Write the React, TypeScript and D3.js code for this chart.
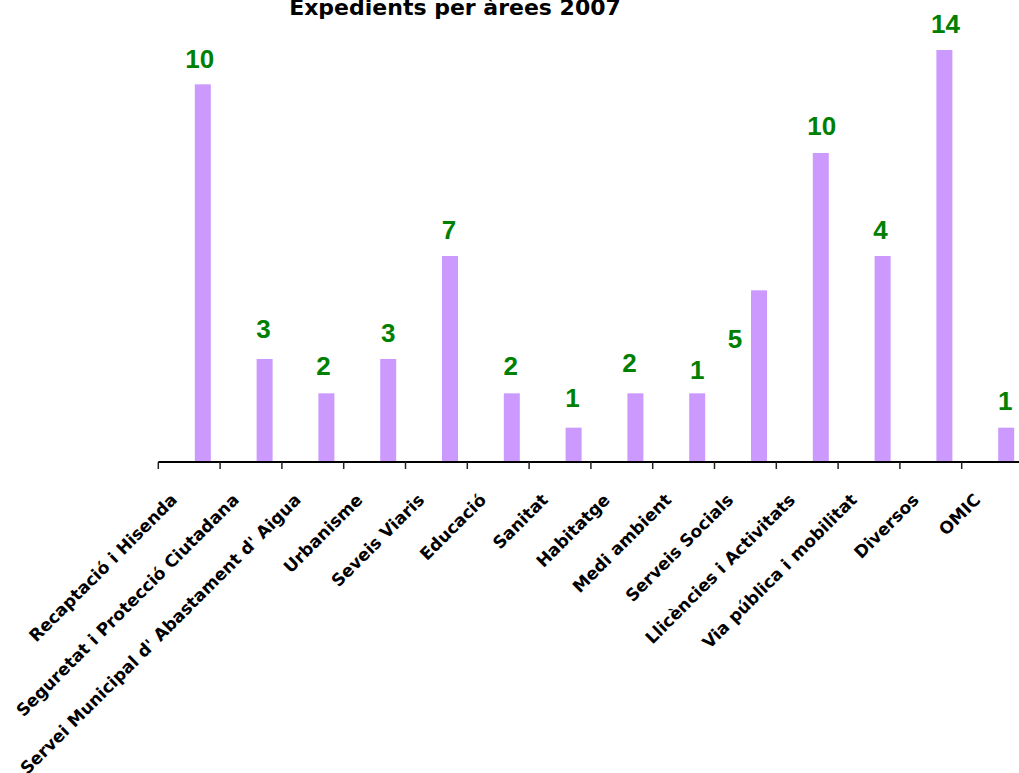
import React from "react";
import * as d3 from "d3";

const title = "Expedients per àrees 2007";
const categories = [
  "Recaptació i Hisenda",
  "Seguretat i Protecció Ciutadana",
  "Servei Municipal d' Abastament d' Aigua",
  "Urbanisme",
  "Seveis Viaris",
  "Educació",
  "Sanitat",
  "Habitatge",
  "Medi ambient",
  "Serveis Socials",
  "Llicències i Activitats",
  "Via pública i mobilitat",
  "Diversos",
  "OMIC",
];
// bar heights as drawn
const barValues = [11, 3, 2, 3, 6, 2, 1, 2, 2, 5, 9, 6, 12, 1];
// value labels as printed
const labelValues = [10, 3, 2, 3, 7, 2, 1, 2, 1, 5, 10, 4, 14, 1];
// small manual nudges of the printed labels [dx, dy]
const labelNudge: [number, number][] = [
  [-3, 1], [-1, -4], [-3, -1], [0, 0], [-1, 0], [-1, -1], [-1, -4],
  [-6, -4], [0, 3], [-24, 75], [1, -1], [-2, 0], [1, 0], [-1, -1],
];

const W = 1019;
const H = 773;
const axisY = 462;
const x0 = 158.3;
const step = 61.8;

export default function App() {
  const x = d3
    .scaleBand<string>()
    .domain(categories)
    .range([x0, x0 + step * categories.length])
    .paddingInner(0)
    .paddingOuter(0);
  const y = d3.scaleLinear().domain([0, 12]).range([axisY, 50]);
  const bw = x.bandwidth();
  const barW = 16;
  const barOff = 36.5;
  const ticks = categories.map((c) => x(c) as number).concat([x0 + step * categories.length]);

  return (
    <svg
      width={W}
      height={H}
      style={{ position: "absolute", left: 0, top: 0, background: "#fff" }}
    >
      <rect x={0} y={0} width={W} height={H} fill="#fff" />
      <text
        x={455}
        y={15}
        textAnchor="middle"
        fontFamily="DejaVu Sans"
        fontWeight="bold"
        fontSize={22}
        fill="#000"
      >
        {title}
      </text>
      {categories.map((c, i) => (
        <rect
          key={"b" + i}
          x={(x(c) as number) + barOff}
          y={y(barValues[i])}
          width={barW}
          height={axisY - y(barValues[i])}
          fill="#CC99FF"
        />
      ))}
      {categories.map((c, i) => (
        <text
          key={"l" + i}
          x={(x(c) as number) + barOff + barW / 2 + labelNudge[i][0]}
          y={y(barValues[i]) - 17 + labelNudge[i][1]}
          textAnchor="middle"
          fontFamily="Liberation Sans"
          fontWeight="bold"
          fontSize={26}
          fill="#008000"
        >
          {labelValues[i]}
        </text>
      ))}
      <line x1={x0} x2={W} y1={axisY} y2={axisY} stroke="#000" strokeWidth={2} />
      {ticks.map((t, i) => (
        <line key={"t" + i} x1={t} x2={t} y1={axisY} y2={axisY + 7} stroke="#222" strokeWidth={1.5} />
      ))}
      {categories.map((c, i) => {
        const cx = (x(c) as number) + bw / 2 - 11;
        const cy = 501;
        return (
          <text
            key={"c" + i}
            x={cx}
            y={cy}
            transform={`rotate(-45 ${cx} ${cy})`}
            textAnchor="end"
            fontFamily="DejaVu Sans"
            fontWeight="bold"
            fontSize={17}
            fill="#000"
          >
            {c}
          </text>
        );
      })}
    </svg>
  );
}
